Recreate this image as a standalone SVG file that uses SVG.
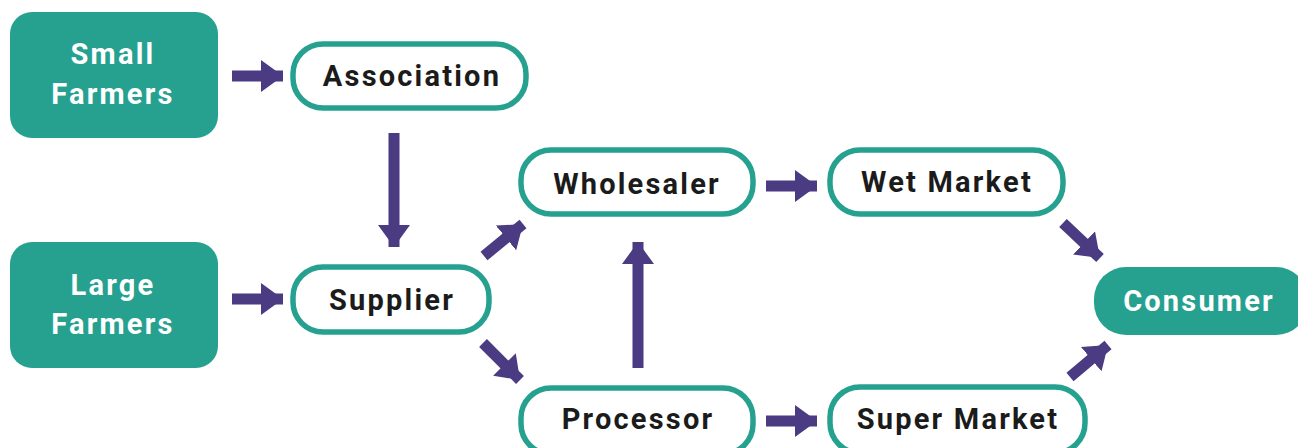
<svg xmlns="http://www.w3.org/2000/svg" width="1298" height="448" viewBox="0 0 1298 448">
<style>
.solid{fill:#26a190;}
.pill{fill:#fff;stroke:#26a190;stroke-width:5.5;}
.t{font-family:Roboto,"Liberation Sans",sans-serif;font-weight:700;font-size:29px;letter-spacing:2.2px;text-anchor:middle;fill:#1b1b1b;}
.w{fill:#fff;}
.c{stroke:#4b3b82;stroke-width:11;fill:none;marker-end:url(#ah);}
</style>
<defs>
<marker id="ah" markerUnits="userSpaceOnUse" markerWidth="24" markerHeight="32" refX="22" refY="16" orient="auto" viewBox="0 0 24 32">
<path d="M0,0 L22,16 L0,32 z" fill="#4b3b82"/>
</marker>
</defs>
<rect width="1298" height="448" fill="#fff"/>
<g id="connectors">
<line class="c" x1="232" y1="76" x2="283" y2="76"/>
<line class="c" x1="232" y1="299" x2="283" y2="299"/>
<line class="c" x1="394" y1="133" x2="394" y2="247"/>
<line class="c" x1="484" y1="256" x2="523" y2="224"/>
<line class="c" x1="483" y1="343" x2="520" y2="380"/>
<line class="c" x1="638" y1="368" x2="638" y2="242"/>
<line class="c" x1="766" y1="186" x2="817" y2="186"/>
<line class="c" x1="766" y1="421" x2="817" y2="421"/>
<line class="c" x1="1063" y1="223" x2="1100" y2="258"/>
<line class="c" x1="1070" y1="377" x2="1108" y2="345"/>
</g>
<g id="small-farmers">
<rect class="solid" x="10" y="12" width="208" height="126" rx="22"/>
<text class="t w" x="113" y="64">Small</text>
<text class="t w" x="113" y="104">Farmers</text>
</g>
<g id="large-farmers">
<rect class="solid" x="10" y="242" width="208" height="126" rx="22"/>
<text class="t w" x="113" y="295">Large</text>
<text class="t w" x="113" y="334">Farmers</text>
</g>
<g id="association">
<rect class="pill" x="293" y="44" width="233" height="64" rx="30"/>
<text class="t" x="412" y="86">Association</text>
</g>
<g id="supplier">
<rect class="pill" x="293" y="267" width="196" height="65" rx="30"/>
<text class="t" x="392" y="310">Supplier</text>
</g>
<g id="wholesaler">
<rect class="pill" x="521" y="150" width="232" height="64" rx="30"/>
<text class="t" x="637" y="194">Wholesaler</text>
</g>
<g id="processor">
<rect class="pill" x="521" y="388" width="232" height="66" rx="30"/>
<text class="t" x="638" y="429">Processor</text>
</g>
<g id="wet-market">
<rect class="pill" x="830" y="150" width="233" height="64" rx="30"/>
<text class="t" x="947" y="192">Wet Market</text>
</g>
<g id="super-market">
<rect class="pill" x="830" y="387" width="255" height="66" rx="30"/>
<text class="t" x="958" y="429">Super Market</text>
</g>
<g id="consumer">
<rect class="solid" x="1094" y="267" width="214" height="68" rx="32"/>
<text class="t w" x="1199" y="311">Consumer</text>
</g>
</svg>
